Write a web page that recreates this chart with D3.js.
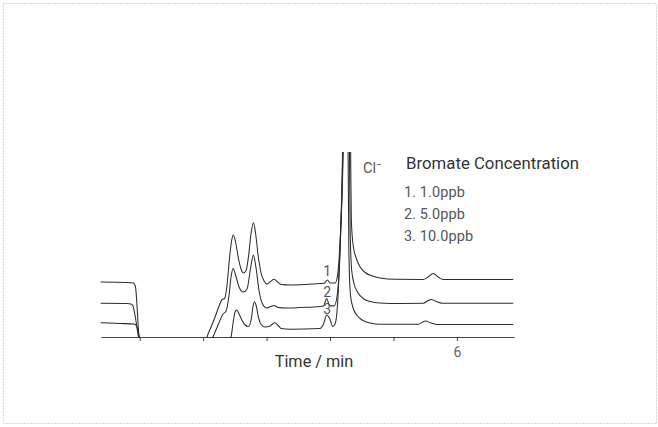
<!DOCTYPE html>
<html>
<head>
<meta charset="utf-8">
<script src="https://cdn.jsdelivr.net/npm/d3@7"></script>
<style>
  body { margin: 0; background: #fff; }
  text { font-family: Roboto, "Noto Sans", sans-serif; }
</style>
</head>
<body>
<div id="chart"></div>
<script>
// Chromatograms: [time (min), signal]
const trace1 = [
  [0.385, 5.5], [0.800, 5.45], [0.902, 5.4], [0.934, 5.0], [0.962, 2.7], [0.989, 0], [1.021, -0.8],
  [2.030, -0.8], [2.062, 0], [2.125, 1.0], [2.188, 2.0], [2.251, 3.1], [2.298, 3.75], [2.338, 3.85],
  [2.377, 5.2], [2.416, 7.9], [2.448, 9.6], [2.476, 10.2], [2.511, 9.5], [2.558, 7.8], [2.598, 6.8],
  [2.634, 6.4], [2.677, 6.65], [2.716, 8.1], [2.756, 10.4], [2.792, 11.43], [2.826, 10.4], [2.866, 8.2],
  [2.913, 6.4], [2.961, 5.6], [3.003, 5.3], [3.063, 5.55], [3.118, 5.77], [3.174, 5.5], [3.229, 5.25],
  [3.371, 5.2], [3.607, 5.25], [3.844, 5.35], [3.907, 5.37], [3.959, 5.7], [4.002, 5.4], [4.080, 5.4],
  [4.112, 5.9], [4.151, 8.7], [4.207, 18.5], [4.254, 40], [4.325, 18.5], [4.336, 11.7], [4.364, 9.2],
  [4.412, 7.9], [4.475, 7.0], [4.554, 6.45], [4.664, 6.1], [4.790, 5.9], [5.027, 5.77], [5.468, 5.75],
  [5.547, 6.0], [5.626, 6.35], [5.705, 6.0], [5.784, 5.75], [6.888, 5.75]
];
const trace2 = [
  [0.385, 3.37], [0.800, 3.35], [0.863, 3.3], [0.894, 3.1], [0.934, 1.9], [0.981, 0], [1.021, -0.8],
  [2.109, -0.8], [2.156, 0], [2.235, 1.2], [2.314, 2.3], [2.361, 2.6], [2.409, 4.2], [2.440, 6.0],
  [2.472, 6.85], [2.511, 6.2], [2.566, 5.0], [2.634, 4.5], [2.692, 4.8], [2.748, 6.9], [2.792, 8.2],
  [2.834, 6.9], [2.882, 4.6], [2.929, 3.4], [3.003, 2.9], [3.063, 3.05], [3.118, 3.15], [3.181, 2.95],
  [3.292, 2.9], [3.528, 2.95], [3.844, 3.05], [3.899, 3.1], [3.946, 3.85], [3.994, 3.15], [4.065, 3.1],
  [4.112, 4.1], [4.159, 8.7], [4.202, 18.5], [4.246, 40], [4.306, 18.5], [4.317, 10.7], [4.341, 6.7],
  [4.380, 5.3], [4.443, 4.4], [4.522, 3.85], [4.632, 3.55], [4.790, 3.4], [5.106, 3.35], [5.468, 3.37],
  [5.547, 3.65], [5.595, 3.75], [5.674, 3.55], [5.768, 3.37], [6.888, 3.37]
];
const trace3 = [
  [0.385, 1.43], [0.689, 1.35], [0.910, 1.3], [0.950, 1.1], [0.997, 0], [1.036, -0.8],
  [2.393, -0.8], [2.440, 0], [2.479, 1.7], [2.503, 2.5], [2.530, 2.7], [2.566, 2.3], [2.614, 1.65],
  [2.661, 1.2], [2.713, 1.05], [2.756, 1.7], [2.787, 3.1], [2.808, 3.53], [2.834, 3.2], [2.874, 1.9],
  [2.913, 1.25], [2.976, 1.0], [3.055, 1.1], [3.103, 1.35], [3.134, 1.43], [3.174, 1.2], [3.229, 0.85],
  [3.371, 0.77], [3.844, 0.85], [3.891, 1.2], [3.950, 2.2], [3.994, 1.85], [4.044, 1.05], [4.080, 1.3],
  [4.112, 2.7], [4.151, 7.7], [4.199, 18.5], [4.246, 40], [4.285, 18.5], [4.297, 8.7], [4.322, 4.2],
  [4.364, 2.9], [4.427, 2.15], [4.506, 1.7], [4.632, 1.4], [4.790, 1.27], [5.390, 1.27], [5.500, 1.6],
  [5.595, 1.4], [5.689, 1.25], [6.888, 1.25]
];

const tickValues = [1, 2, 3, 4, 5, 6];
const tickLabels = {6: "6"};
const peakLabels = ["1", "2", "3"];
const peakLabelSignal = [6.0, 3.95, 2.2];
const peakLabelTime = 3.955;
const legendTitle = "Bromate Concentration";
const legendItems = ["1. 1.0ppb", "2. 5.0ppb", "3. 10.0ppb"];

const W = 658, H = 427;
const svg = d3.select("#chart").append("svg")
  .attr("width", W).attr("height", H);

// dotted frame
svg.append("rect")
  .attr("x", 3.5).attr("y", 3.5)
  .attr("width", 653).attr("height", 420)
  .attr("fill", "none")
  .attr("stroke", "#b5b5b5")
  .attr("stroke-dasharray", "1,2");

const x = d3.scaleLinear().domain([0.39, 6.9]).range([101, 514]);
const y = d3.scaleLinear().domain([0, 18.5]).range([337, 152]);

svg.append("defs").append("clipPath").attr("id", "plot")
  .append("rect")
  .attr("x", 95).attr("y", 152)
  .attr("width", 430).attr("height", 186);

// x axis
const axis = svg.append("g")
  .attr("transform", "translate(0,337)")
  .call(d3.axisBottom(x).tickValues(tickValues).tickSize(4).tickSizeOuter(0)
    .tickFormat(d => tickLabels[d] || ""));
axis.select(".domain").attr("stroke", "#444");
axis.selectAll(".tick line").attr("stroke", "#444");
axis.selectAll(".tick text")
  .attr("fill", "#666").attr("font-size", 14).attr("dy", "0.95em")
  .attr("font-family", "Roboto, sans-serif");

svg.append("text")
  .attr("x", 314).attr("y", 366.5)
  .attr("text-anchor", "middle")
  .attr("fill", "#333").attr("font-size", 16.3)
  .text("Time / min");

// traces
const line = d3.line()
  .x(d => x(d[0]))
  .y(d => y(d[1]))
  .curve(d3.curveMonotoneX);

svg.append("g").attr("clip-path", "url(#plot)")
  .selectAll("path")
  .data([trace1, trace2, trace3])
  .enter().append("path")
  .attr("d", line)
  .attr("fill", "none")
  .attr("stroke", "#2b2b2b")
  .attr("stroke-width", 1.05);

// peak numbers
svg.selectAll(".peakLabel").data(peakLabels)
  .enter().append("text")
  .attr("class", "peakLabel")
  .attr("x", x(peakLabelTime))
  .attr("y", (d, i) => y(peakLabelSignal[i]) - 1)
  .attr("text-anchor", "middle")
  .attr("fill", "#555").attr("font-size", 14)
  .text(d => d);

// Cl- label
const cl = svg.append("text")
  .attr("x", 363).attr("y", 173)
  .attr("fill", "#555").attr("font-size", 14.5)
  .text("Cl");
cl.append("tspan")
  .attr("dy", -5).attr("font-size", 10)
  .text("−");

// legend
svg.append("text")
  .attr("x", 406).attr("y", 169)
  .attr("fill", "#333").attr("font-size", 16.8)
  .text(legendTitle);

svg.selectAll(".legendItem").data(legendItems)
  .enter().append("text")
  .attr("class", "legendItem")
  .attr("x", 404)
  .attr("y", (d, i) => 196.5 + i * 22)
  .attr("fill", "#555").attr("font-size", 14.5)
  .attr("letter-spacing", 0.1)
  .text(d => d);
</script>
</body>
</html>
